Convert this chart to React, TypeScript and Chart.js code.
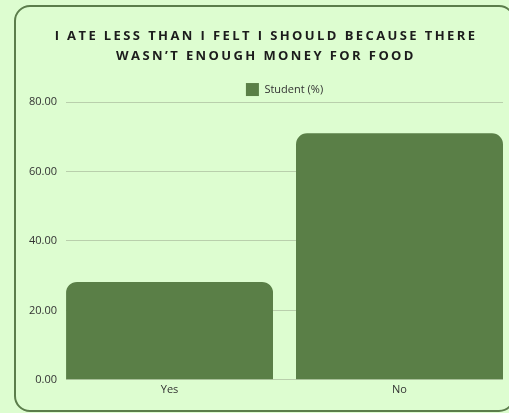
import React, { useEffect, useRef } from "react";
import { Chart, registerables } from "chart.js";

Chart.register(...registerables);

const titleLines = ["I ATE LESS THAN I FELT I SHOULD BECAUSE THERE", "WASN\u2019T ENOUGH MONEY FOR FOOD"];
const categories = ["Yes", "No"];
const seriesLabel = "Student (%)";
const studentValues = [28.2, 71.0];
const yTicks = [0, 20, 40, 60, 80];

const BG = "#ddfdd0";
const GREEN = "#5a7f47";

export default function App() {
  const ref = useRef<HTMLCanvasElement | null>(null);
  useEffect(() => {
    document.body.style.background = BG;
    const canvas = ref.current!;
    const chart = new Chart(canvas, {
      type: "bar",
      data: {
        datasets: [
          {
            label: seriesLabel,
            data: studentValues.map((v, i) => ({ x: i, y: v })),
            backgroundColor: GREEN,
            borderColor: GREEN,
            borderWidth: 0,
            borderRadius: { topLeft: 11, topRight: 11, bottomLeft: 0, bottomRight: 0 },
            borderSkipped: "bottom",
            categoryPercentage: 0.9,
            barPercentage: 1,
          },
        ],
      },
      options: {
        animation: false,
        responsive: false,
        maintainAspectRatio: false,
        layout: { padding: { left: 4, right: 9, top: 0, bottom: 10 } },
        plugins: {
          title: {
            display: true,
            text: titleLines,
            color: "#1c1c1c",
            font: { family: "'Open Sans'", size: 13, weight: "bold", lineHeight: 1.54 },
            padding: { top: 19, bottom: 16 },
          },
          legend: {
            display: true,
            fullSize: false,
            labels: {
              boxWidth: 13,
              boxHeight: 13,
              color: "#333",
              font: { family: "'Open Sans'", size: 11 },
              padding: 1,
            },
          },
          tooltip: { enabled: false },
        },
        scales: {
          x: {
            type: "linear",
            offset: false,
            min: -0.45,
            max: categories.length - 1 + 0.45,
            afterBuildTicks: (axis: any) => {
              axis.ticks = categories.map((_, i) => ({ value: i }));
            },
            grid: { display: false, drawTicks: false },
            border: { display: false },
            ticks: {
              color: "#333",
              font: { family: "'Open Sans'", size: 11 },
              padding: 3,
              autoSkip: false,
              maxRotation: 0,
              callback: (v: any) => categories[Math.round(Number(v))] ?? "",
            },
          },
          y: {
            min: 0,
            max: yTicks[yTicks.length - 1],
            afterBuildTicks: (axis: any) => {
              axis.ticks = yTicks.map((v) => ({ value: v }));
            },
            grid: { color: "#b9cfac", drawTicks: false },
            border: { display: false },
            ticks: {
              color: "#333",
              font: { family: "'Open Sans'", size: 11 },
              padding: 9,
              callback: (v: any) => Number(v).toFixed(2),
            },
          },
        },
      },
    } as any);
    const tb: any = (chart as any).titleBlock;
    if (tb) {
      const orig = tb.draw;
      tb.draw = function (...args: any[]) {
        const ctx: any = chart.ctx;
        ctx.save();
        ctx.letterSpacing = "2.4px";
        ctx.translate(4.5, 0);
        orig.apply(this, args);
        ctx.restore();
      };
    }
    const lg: any = (chart as any).legend;
    if (lg) {
      const origFit = lg.fit;
      lg.fit = function (...args: any[]) {
        origFit.apply(this, args);
        this.height -= 4;
      };
    }
    chart.update();
    return () => chart.destroy();
  }, []);
  return (
    <div style={{ position: "fixed", inset: 0, background: BG }}>
      <div
        style={{
          position: "absolute",
          left: 14,
          top: 5,
          width: 501,
          height: 407,
          boxSizing: "border-box",
          border: "2px solid #5b7d4b",
          borderRadius: 16,
        }}
      />
      <canvas
        ref={ref}
        width={496}
        height={402}
        style={{ position: "absolute", left: 16, top: 7, width: 496, height: 402 }}
      />
    </div>
  );
}
